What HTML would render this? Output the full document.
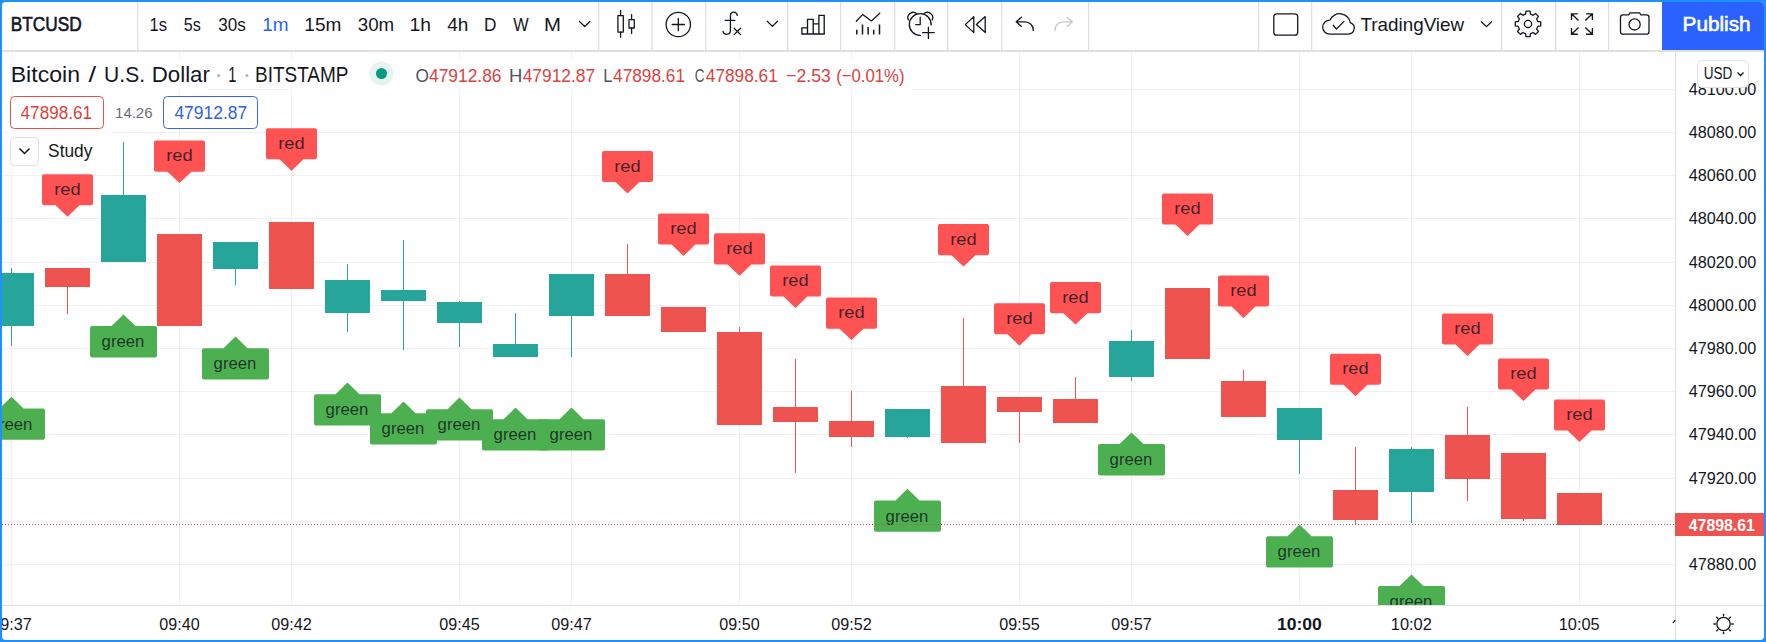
<!DOCTYPE html>
<html><head><meta charset="utf-8"><title>BTCUSD</title>
<style>
html,body{margin:0;padding:0;width:1766px;height:642px;overflow:hidden;background:#1e90ff;font-family:"Liberation Sans", sans-serif;}
</style></head><body>
<svg width="1766" height="642" viewBox="0 0 1766 642" style="position:absolute;left:0;top:0" font-family="'Liberation Sans', sans-serif">
<defs><clipPath id="pane"><rect x="2" y="52" width="1673" height="553"/></clipPath><clipPath id="taxis"><rect x="2" y="606" width="1673" height="34"/></clipPath></defs>
<rect x="0" y="0" width="1766" height="642" fill="#1e90ff"/>
<rect x="2" y="2" width="1762" height="638" rx="4" fill="#fff"/>
<g clip-path="url(#pane)">
<rect x="2" y="89" width="1673" height="1" fill="#f0f0f0"/>
<rect x="2" y="132" width="1673" height="1" fill="#f0f0f0"/>
<rect x="2" y="175" width="1673" height="1" fill="#f0f0f0"/>
<rect x="2" y="218" width="1673" height="1" fill="#f0f0f0"/>
<rect x="2" y="262" width="1673" height="1" fill="#f0f0f0"/>
<rect x="2" y="305" width="1673" height="1" fill="#f0f0f0"/>
<rect x="2" y="348" width="1673" height="1" fill="#f0f0f0"/>
<rect x="2" y="391" width="1673" height="1" fill="#f0f0f0"/>
<rect x="2" y="434" width="1673" height="1" fill="#f0f0f0"/>
<rect x="2" y="478" width="1673" height="1" fill="#f0f0f0"/>
<rect x="2" y="521" width="1673" height="1" fill="#f0f0f0"/>
<rect x="2" y="564" width="1673" height="1" fill="#f0f0f0"/>
<rect x="11" y="52" width="1" height="553" fill="#f0f0f0"/>
<rect x="179" y="52" width="1" height="553" fill="#f0f0f0"/>
<rect x="291" y="52" width="1" height="553" fill="#f0f0f0"/>
<rect x="459" y="52" width="1" height="553" fill="#f0f0f0"/>
<rect x="571" y="52" width="1" height="553" fill="#f0f0f0"/>
<rect x="739" y="52" width="1" height="553" fill="#f0f0f0"/>
<rect x="851" y="52" width="1" height="553" fill="#f0f0f0"/>
<rect x="1019" y="52" width="1" height="553" fill="#f0f0f0"/>
<rect x="1131" y="52" width="1" height="553" fill="#f0f0f0"/>
<rect x="1299" y="52" width="1" height="553" fill="#f0f0f0"/>
<rect x="1411" y="52" width="1" height="553" fill="#f0f0f0"/>
<rect x="1579" y="52" width="1" height="553" fill="#f0f0f0"/>
<rect x="2" y="59.5" width="909" height="29" fill="#fff"/>
<rect x="2" y="88" width="206" height="2" fill="#fff"/>
<rect x="288" y="88" width="623" height="2" fill="#fff"/>
<rect x="8" y="131" width="105" height="39" fill="#fff"/>
<rect x="11" y="268" width="1" height="78" fill="#26a69a"/>
<rect x="-11" y="273" width="45" height="53" fill="#26a69a"/>
<rect x="67" y="268" width="1" height="46" fill="#ef5350"/>
<rect x="45" y="268" width="45" height="19" fill="#ef5350"/>
<rect x="123" y="142" width="1" height="120" fill="#26a69a"/>
<rect x="101" y="195" width="45" height="67" fill="#26a69a"/>
<rect x="179" y="234" width="1" height="92" fill="#ef5350"/>
<rect x="157" y="234" width="45" height="92" fill="#ef5350"/>
<rect x="235" y="242" width="1" height="43" fill="#26a69a"/>
<rect x="213" y="242" width="45" height="27" fill="#26a69a"/>
<rect x="291" y="222" width="1" height="67" fill="#ef5350"/>
<rect x="269" y="222" width="45" height="67" fill="#ef5350"/>
<rect x="347" y="264" width="1" height="68" fill="#26a69a"/>
<rect x="325" y="280" width="45" height="33" fill="#26a69a"/>
<rect x="403" y="240" width="1" height="110" fill="#26a69a"/>
<rect x="381" y="290" width="45" height="11" fill="#26a69a"/>
<rect x="459" y="301" width="1" height="46" fill="#26a69a"/>
<rect x="437" y="302" width="45" height="21" fill="#26a69a"/>
<rect x="515" y="313" width="1" height="44" fill="#26a69a"/>
<rect x="493" y="344" width="45" height="13" fill="#26a69a"/>
<rect x="571" y="274" width="1" height="83" fill="#26a69a"/>
<rect x="549" y="274" width="45" height="42" fill="#26a69a"/>
<rect x="627" y="244" width="1" height="72" fill="#ef5350"/>
<rect x="605" y="274" width="45" height="42" fill="#ef5350"/>
<rect x="683" y="307" width="1" height="25" fill="#ef5350"/>
<rect x="661" y="307" width="45" height="25" fill="#ef5350"/>
<rect x="739" y="327" width="1" height="98" fill="#ef5350"/>
<rect x="717" y="332" width="45" height="93" fill="#ef5350"/>
<rect x="795" y="359" width="1" height="114" fill="#ef5350"/>
<rect x="773" y="407" width="45" height="15" fill="#ef5350"/>
<rect x="851" y="391" width="1" height="56" fill="#ef5350"/>
<rect x="829" y="421" width="45" height="16" fill="#ef5350"/>
<rect x="907" y="409" width="1" height="29" fill="#26a69a"/>
<rect x="885" y="409" width="45" height="28" fill="#26a69a"/>
<rect x="963" y="318" width="1" height="125" fill="#ef5350"/>
<rect x="941" y="386" width="45" height="57" fill="#ef5350"/>
<rect x="1019" y="397" width="1" height="46" fill="#ef5350"/>
<rect x="997" y="397" width="45" height="15" fill="#ef5350"/>
<rect x="1075" y="377" width="1" height="46" fill="#ef5350"/>
<rect x="1053" y="399" width="45" height="24" fill="#ef5350"/>
<rect x="1131" y="330" width="1" height="51" fill="#26a69a"/>
<rect x="1109" y="341" width="45" height="36" fill="#26a69a"/>
<rect x="1187" y="288" width="1" height="71" fill="#ef5350"/>
<rect x="1165" y="288" width="45" height="71" fill="#ef5350"/>
<rect x="1243" y="370" width="1" height="47" fill="#ef5350"/>
<rect x="1221" y="381" width="45" height="36" fill="#ef5350"/>
<rect x="1299" y="408" width="1" height="66" fill="#26a69a"/>
<rect x="1277" y="408" width="45" height="32" fill="#26a69a"/>
<rect x="1355" y="447" width="1" height="78" fill="#ef5350"/>
<rect x="1333" y="490" width="45" height="30" fill="#ef5350"/>
<rect x="1411" y="447" width="1" height="76" fill="#26a69a"/>
<rect x="1389" y="449" width="45" height="43" fill="#26a69a"/>
<rect x="1467" y="407" width="1" height="94" fill="#ef5350"/>
<rect x="1445" y="435" width="45" height="44" fill="#ef5350"/>
<rect x="1523" y="453" width="1" height="68" fill="#ef5350"/>
<rect x="1501" y="453" width="45" height="66" fill="#ef5350"/>
<rect x="1579" y="493" width="1" height="32" fill="#ef5350"/>
<rect x="1557" y="493" width="45" height="32" fill="#ef5350"/>
<path d="M-20.0,408.4 H-0.5 L11.5,396.7 L23.5,408.4 H43.0 Q45.0,408.4 45.0,410.4 V437.7 Q45.0,439.7 43.0,439.7 H-20.0 Q-22.0,439.7 -22.0,437.7 V410.4 Q-22.0,408.4 -20.0,408.4 Z" fill="#4caf50"/>
<text x="-10.40" y="429.50" font-size="16.5" fill="rgba(19,23,34,0.82)" textLength="42.79" lengthAdjust="spacingAndGlyphs">green</text>
<path d="M44.0,174.2 H91.0 Q93.0,174.2 93.0,176.2 V203.29999999999998 Q93.0,205.29999999999998 91.0,205.29999999999998 H79.5 L67.5,216.7 L55.5,205.29999999999998 H44.0 Q42.0,205.29999999999998 42.0,203.29999999999998 V176.2 Q42.0,174.2 44.0,174.2 Z" fill="#ff5252"/>
<text x="54.29" y="194.80" font-size="16.5" fill="rgba(19,23,34,0.82)" textLength="26.39" lengthAdjust="spacingAndGlyphs">red</text>
<path d="M92.0,326.1 H111.5 L123.5,314.40000000000003 L135.5,326.1 H155.0 Q157.0,326.1 157.0,328.1 V355.40000000000003 Q157.0,357.40000000000003 155.0,357.40000000000003 H92.0 Q90.0,357.40000000000003 90.0,355.40000000000003 V328.1 Q90.0,326.1 92.0,326.1 Z" fill="#4caf50"/>
<text x="101.60" y="347.20" font-size="16.5" fill="rgba(19,23,34,0.82)" textLength="42.79" lengthAdjust="spacingAndGlyphs">green</text>
<path d="M156.0,140.6 H203.0 Q205.0,140.6 205.0,142.6 V169.7 Q205.0,171.7 203.0,171.7 H191.5 L179.5,183.1 L167.5,171.7 H156.0 Q154.0,171.7 154.0,169.7 V142.6 Q154.0,140.6 156.0,140.6 Z" fill="#ff5252"/>
<text x="166.29" y="161.20" font-size="16.5" fill="rgba(19,23,34,0.82)" textLength="26.39" lengthAdjust="spacingAndGlyphs">red</text>
<path d="M204.0,348.2 H223.5 L235.5,336.5 L247.5,348.2 H267.0 Q269.0,348.2 269.0,350.2 V377.5 Q269.0,379.5 267.0,379.5 H204.0 Q202.0,379.5 202.0,377.5 V350.2 Q202.0,348.2 204.0,348.2 Z" fill="#4caf50"/>
<text x="213.60" y="369.30" font-size="16.5" fill="rgba(19,23,34,0.82)" textLength="42.79" lengthAdjust="spacingAndGlyphs">green</text>
<path d="M268.0,128.2 H315.0 Q317.0,128.2 317.0,130.2 V157.29999999999998 Q317.0,159.29999999999998 315.0,159.29999999999998 H303.5 L291.5,170.7 L279.5,159.29999999999998 H268.0 Q266.0,159.29999999999998 266.0,157.29999999999998 V130.2 Q266.0,128.2 268.0,128.2 Z" fill="#ff5252"/>
<text x="278.29" y="148.80" font-size="16.5" fill="rgba(19,23,34,0.82)" textLength="26.39" lengthAdjust="spacingAndGlyphs">red</text>
<path d="M316.0,394.3 H335.5 L347.5,382.6 L359.5,394.3 H379.0 Q381.0,394.3 381.0,396.3 V423.6 Q381.0,425.6 379.0,425.6 H316.0 Q314.0,425.6 314.0,423.6 V396.3 Q314.0,394.3 316.0,394.3 Z" fill="#4caf50"/>
<text x="325.60" y="415.40" font-size="16.5" fill="rgba(19,23,34,0.82)" textLength="42.79" lengthAdjust="spacingAndGlyphs">green</text>
<path d="M372.0,413.2 H391.5 L403.5,401.5 L415.5,413.2 H435.0 Q437.0,413.2 437.0,415.2 V442.5 Q437.0,444.5 435.0,444.5 H372.0 Q370.0,444.5 370.0,442.5 V415.2 Q370.0,413.2 372.0,413.2 Z" fill="#4caf50"/>
<text x="381.60" y="434.30" font-size="16.5" fill="rgba(19,23,34,0.82)" textLength="42.79" lengthAdjust="spacingAndGlyphs">green</text>
<path d="M428.0,409.2 H447.5 L459.5,397.5 L471.5,409.2 H491.0 Q493.0,409.2 493.0,411.2 V438.5 Q493.0,440.5 491.0,440.5 H428.0 Q426.0,440.5 426.0,438.5 V411.2 Q426.0,409.2 428.0,409.2 Z" fill="#4caf50"/>
<text x="437.60" y="430.30" font-size="16.5" fill="rgba(19,23,34,0.82)" textLength="42.79" lengthAdjust="spacingAndGlyphs">green</text>
<path d="M484.0,419.3 H503.5 L515.5,407.6 L527.5,419.3 H547.0 Q549.0,419.3 549.0,421.3 V448.6 Q549.0,450.6 547.0,450.6 H484.0 Q482.0,450.6 482.0,448.6 V421.3 Q482.0,419.3 484.0,419.3 Z" fill="#4caf50"/>
<text x="493.60" y="440.40" font-size="16.5" fill="rgba(19,23,34,0.82)" textLength="42.79" lengthAdjust="spacingAndGlyphs">green</text>
<path d="M540.0,419.3 H559.5 L571.5,407.6 L583.5,419.3 H603.0 Q605.0,419.3 605.0,421.3 V448.6 Q605.0,450.6 603.0,450.6 H540.0 Q538.0,450.6 538.0,448.6 V421.3 Q538.0,419.3 540.0,419.3 Z" fill="#4caf50"/>
<text x="549.60" y="440.40" font-size="16.5" fill="rgba(19,23,34,0.82)" textLength="42.79" lengthAdjust="spacingAndGlyphs">green</text>
<path d="M604.0,150.9 H651.0 Q653.0,150.9 653.0,152.9 V180.0 Q653.0,182.0 651.0,182.0 H639.5 L627.5,193.4 L615.5,182.0 H604.0 Q602.0,182.0 602.0,180.0 V152.9 Q602.0,150.9 604.0,150.9 Z" fill="#ff5252"/>
<text x="614.29" y="171.50" font-size="16.5" fill="rgba(19,23,34,0.82)" textLength="26.39" lengthAdjust="spacingAndGlyphs">red</text>
<path d="M660.0,213.5 H707.0 Q709.0,213.5 709.0,215.5 V242.6 Q709.0,244.6 707.0,244.6 H695.5 L683.5,256.0 L671.5,244.6 H660.0 Q658.0,244.6 658.0,242.6 V215.5 Q658.0,213.5 660.0,213.5 Z" fill="#ff5252"/>
<text x="670.29" y="234.10" font-size="16.5" fill="rgba(19,23,34,0.82)" textLength="26.39" lengthAdjust="spacingAndGlyphs">red</text>
<path d="M716.0,233.3 H763.0 Q765.0,233.3 765.0,235.3 V262.40000000000003 Q765.0,264.40000000000003 763.0,264.40000000000003 H751.5 L739.5,275.8 L727.5,264.40000000000003 H716.0 Q714.0,264.40000000000003 714.0,262.40000000000003 V235.3 Q714.0,233.3 716.0,233.3 Z" fill="#ff5252"/>
<text x="726.29" y="253.90" font-size="16.5" fill="rgba(19,23,34,0.82)" textLength="26.39" lengthAdjust="spacingAndGlyphs">red</text>
<path d="M772.0,265.4 H819.0 Q821.0,265.4 821.0,267.4 V294.5 Q821.0,296.5 819.0,296.5 H807.5 L795.5,307.9 L783.5,296.5 H772.0 Q770.0,296.5 770.0,294.5 V267.4 Q770.0,265.4 772.0,265.4 Z" fill="#ff5252"/>
<text x="782.29" y="286.00" font-size="16.5" fill="rgba(19,23,34,0.82)" textLength="26.39" lengthAdjust="spacingAndGlyphs">red</text>
<path d="M828.0,297.6 H875.0 Q877.0,297.6 877.0,299.6 V326.70000000000005 Q877.0,328.70000000000005 875.0,328.70000000000005 H863.5 L851.5,340.1 L839.5,328.70000000000005 H828.0 Q826.0,328.70000000000005 826.0,326.70000000000005 V299.6 Q826.0,297.6 828.0,297.6 Z" fill="#ff5252"/>
<text x="838.29" y="318.20" font-size="16.5" fill="rgba(19,23,34,0.82)" textLength="26.39" lengthAdjust="spacingAndGlyphs">red</text>
<path d="M876.0,500.5 H895.5 L907.5,488.8 L919.5,500.5 H939.0 Q941.0,500.5 941.0,502.5 V529.8 Q941.0,531.8 939.0,531.8 H876.0 Q874.0,531.8 874.0,529.8 V502.5 Q874.0,500.5 876.0,500.5 Z" fill="#4caf50"/>
<text x="885.60" y="521.60" font-size="16.5" fill="rgba(19,23,34,0.82)" textLength="42.79" lengthAdjust="spacingAndGlyphs">green</text>
<path d="M940.0,224.1 H987.0 Q989.0,224.1 989.0,226.1 V253.2 Q989.0,255.2 987.0,255.2 H975.5 L963.5,266.59999999999997 L951.5,255.2 H940.0 Q938.0,255.2 938.0,253.2 V226.1 Q938.0,224.1 940.0,224.1 Z" fill="#ff5252"/>
<text x="950.29" y="244.70" font-size="16.5" fill="rgba(19,23,34,0.82)" textLength="26.39" lengthAdjust="spacingAndGlyphs">red</text>
<path d="M996.0,303.2 H1043.0 Q1045.0,303.2 1045.0,305.2 V332.3 Q1045.0,334.3 1043.0,334.3 H1031.5 L1019.5,345.7 L1007.5,334.3 H996.0 Q994.0,334.3 994.0,332.3 V305.2 Q994.0,303.2 996.0,303.2 Z" fill="#ff5252"/>
<text x="1006.29" y="323.80" font-size="16.5" fill="rgba(19,23,34,0.82)" textLength="26.39" lengthAdjust="spacingAndGlyphs">red</text>
<path d="M1052.0,282.1 H1099.0 Q1101.0,282.1 1101.0,284.1 V311.20000000000005 Q1101.0,313.20000000000005 1099.0,313.20000000000005 H1087.5 L1075.5,324.6 L1063.5,313.20000000000005 H1052.0 Q1050.0,313.20000000000005 1050.0,311.20000000000005 V284.1 Q1050.0,282.1 1052.0,282.1 Z" fill="#ff5252"/>
<text x="1062.29" y="302.70" font-size="16.5" fill="rgba(19,23,34,0.82)" textLength="26.39" lengthAdjust="spacingAndGlyphs">red</text>
<path d="M1100.0,444.1 H1119.5 L1131.5,432.40000000000003 L1143.5,444.1 H1163.0 Q1165.0,444.1 1165.0,446.1 V473.40000000000003 Q1165.0,475.40000000000003 1163.0,475.40000000000003 H1100.0 Q1098.0,475.40000000000003 1098.0,473.40000000000003 V446.1 Q1098.0,444.1 1100.0,444.1 Z" fill="#4caf50"/>
<text x="1109.60" y="465.20" font-size="16.5" fill="rgba(19,23,34,0.82)" textLength="42.79" lengthAdjust="spacingAndGlyphs">green</text>
<path d="M1164.0,193.5 H1211.0 Q1213.0,193.5 1213.0,195.5 V222.6 Q1213.0,224.6 1211.0,224.6 H1199.5 L1187.5,236.0 L1175.5,224.6 H1164.0 Q1162.0,224.6 1162.0,222.6 V195.5 Q1162.0,193.5 1164.0,193.5 Z" fill="#ff5252"/>
<text x="1174.29" y="214.10" font-size="16.5" fill="rgba(19,23,34,0.82)" textLength="26.39" lengthAdjust="spacingAndGlyphs">red</text>
<path d="M1220.0,275.5 H1267.0 Q1269.0,275.5 1269.0,277.5 V304.6 Q1269.0,306.6 1267.0,306.6 H1255.5 L1243.5,318.0 L1231.5,306.6 H1220.0 Q1218.0,306.6 1218.0,304.6 V277.5 Q1218.0,275.5 1220.0,275.5 Z" fill="#ff5252"/>
<text x="1230.29" y="296.10" font-size="16.5" fill="rgba(19,23,34,0.82)" textLength="26.39" lengthAdjust="spacingAndGlyphs">red</text>
<path d="M1268.0,536.2 H1287.5 L1299.5,524.5 L1311.5,536.2 H1331.0 Q1333.0,536.2 1333.0,538.2 V565.5 Q1333.0,567.5 1331.0,567.5 H1268.0 Q1266.0,567.5 1266.0,565.5 V538.2 Q1266.0,536.2 1268.0,536.2 Z" fill="#4caf50"/>
<text x="1277.60" y="557.30" font-size="16.5" fill="rgba(19,23,34,0.82)" textLength="42.79" lengthAdjust="spacingAndGlyphs">green</text>
<path d="M1332.0,353.7 H1379.0 Q1381.0,353.7 1381.0,355.7 V382.8 Q1381.0,384.8 1379.0,384.8 H1367.5 L1355.5,396.2 L1343.5,384.8 H1332.0 Q1330.0,384.8 1330.0,382.8 V355.7 Q1330.0,353.7 1332.0,353.7 Z" fill="#ff5252"/>
<text x="1342.29" y="374.30" font-size="16.5" fill="rgba(19,23,34,0.82)" textLength="26.39" lengthAdjust="spacingAndGlyphs">red</text>
<path d="M1380.0,586.1 H1399.5 L1411.5,574.4 L1423.5,586.1 H1443.0 Q1445.0,586.1 1445.0,588.1 V615.4 Q1445.0,617.4 1443.0,617.4 H1380.0 Q1378.0,617.4 1378.0,615.4 V588.1 Q1378.0,586.1 1380.0,586.1 Z" fill="#4caf50"/>
<text x="1389.60" y="607.20" font-size="16.5" fill="rgba(19,23,34,0.82)" textLength="42.79" lengthAdjust="spacingAndGlyphs">green</text>
<path d="M1444.0,313.5 H1491.0 Q1493.0,313.5 1493.0,315.5 V342.6 Q1493.0,344.6 1491.0,344.6 H1479.5 L1467.5,356.0 L1455.5,344.6 H1444.0 Q1442.0,344.6 1442.0,342.6 V315.5 Q1442.0,313.5 1444.0,313.5 Z" fill="#ff5252"/>
<text x="1454.29" y="334.10" font-size="16.5" fill="rgba(19,23,34,0.82)" textLength="26.39" lengthAdjust="spacingAndGlyphs">red</text>
<path d="M1500.0,358.4 H1547.0 Q1549.0,358.4 1549.0,360.4 V387.5 Q1549.0,389.5 1547.0,389.5 H1535.5 L1523.5,400.9 L1511.5,389.5 H1500.0 Q1498.0,389.5 1498.0,387.5 V360.4 Q1498.0,358.4 1500.0,358.4 Z" fill="#ff5252"/>
<text x="1510.29" y="379.00" font-size="16.5" fill="rgba(19,23,34,0.82)" textLength="26.39" lengthAdjust="spacingAndGlyphs">red</text>
<path d="M1556.0,399.5 H1603.0 Q1605.0,399.5 1605.0,401.5 V428.6 Q1605.0,430.6 1603.0,430.6 H1591.5 L1579.5,442.0 L1567.5,430.6 H1556.0 Q1554.0,430.6 1554.0,428.6 V401.5 Q1554.0,399.5 1556.0,399.5 Z" fill="#ff5252"/>
<text x="1566.29" y="420.10" font-size="16.5" fill="rgba(19,23,34,0.82)" textLength="26.39" lengthAdjust="spacingAndGlyphs">red</text>
<line x1="2" y1="524.5" x2="1675" y2="524.5" stroke="#c4505a" stroke-width="1" stroke-dasharray="1 2"/>
</g>
<rect x="1675" y="52" width="1" height="588" fill="#e0e0e0"/>
<text x="1688.63" y="94.80" font-size="16" fill="#131722" textLength="67.61" lengthAdjust="spacingAndGlyphs">48100.00</text>
<text x="1688.63" y="138.00" font-size="16" fill="#131722" textLength="67.61" lengthAdjust="spacingAndGlyphs">48080.00</text>
<text x="1688.63" y="181.20" font-size="16" fill="#131722" textLength="67.61" lengthAdjust="spacingAndGlyphs">48060.00</text>
<text x="1688.63" y="224.40" font-size="16" fill="#131722" textLength="67.61" lengthAdjust="spacingAndGlyphs">48040.00</text>
<text x="1688.63" y="267.60" font-size="16" fill="#131722" textLength="67.61" lengthAdjust="spacingAndGlyphs">48020.00</text>
<text x="1688.63" y="310.80" font-size="16" fill="#131722" textLength="67.61" lengthAdjust="spacingAndGlyphs">48000.00</text>
<text x="1688.63" y="354.00" font-size="16" fill="#131722" textLength="67.61" lengthAdjust="spacingAndGlyphs">47980.00</text>
<text x="1688.63" y="397.20" font-size="16" fill="#131722" textLength="67.61" lengthAdjust="spacingAndGlyphs">47960.00</text>
<text x="1688.63" y="440.40" font-size="16" fill="#131722" textLength="67.61" lengthAdjust="spacingAndGlyphs">47940.00</text>
<text x="1688.63" y="483.60" font-size="16" fill="#131722" textLength="67.61" lengthAdjust="spacingAndGlyphs">47920.00</text>
<text x="1688.63" y="570.00" font-size="16" fill="#131722" textLength="67.61" lengthAdjust="spacingAndGlyphs">47880.00</text>
<rect x="1675" y="513" width="89" height="23" fill="#ef5350"/>
<text x="1688.76" y="530.80" font-size="16" font-weight="bold" fill="#fff" textLength="66.18" lengthAdjust="spacingAndGlyphs">47898.61</text>
<rect x="1697.5" y="60.5" width="51" height="27" rx="5" fill="#fff" stroke="#e0e0e0"/>
<text x="1703.66" y="78.60" font-size="16" fill="#131722" textLength="28.59" lengthAdjust="spacingAndGlyphs">USD</text>
<path d="M1737.5,72.5 L1740.5,75.5 L1743.5,72.5" fill="none" stroke="#131722" stroke-width="1.3"/>
<rect x="2" y="605" width="1762" height="1" fill="#e0e0e0"/>
<g clip-path="url(#taxis)">
<text x="-8.63" y="629.60" font-size="16" fill="#131722" textLength="40.44" lengthAdjust="spacingAndGlyphs">09:37</text>
<text x="159.37" y="629.60" font-size="16" fill="#131722" textLength="40.26" lengthAdjust="spacingAndGlyphs">09:40</text>
<text x="271.37" y="629.60" font-size="16" fill="#131722" textLength="40.44" lengthAdjust="spacingAndGlyphs">09:42</text>
<text x="439.37" y="629.60" font-size="16" fill="#131722" textLength="40.31" lengthAdjust="spacingAndGlyphs">09:45</text>
<text x="551.37" y="629.60" font-size="16" fill="#131722" textLength="40.44" lengthAdjust="spacingAndGlyphs">09:47</text>
<text x="719.37" y="629.60" font-size="16" fill="#131722" textLength="40.26" lengthAdjust="spacingAndGlyphs">09:50</text>
<text x="831.37" y="629.60" font-size="16" fill="#131722" textLength="40.44" lengthAdjust="spacingAndGlyphs">09:52</text>
<text x="999.37" y="629.60" font-size="16" fill="#131722" textLength="40.31" lengthAdjust="spacingAndGlyphs">09:55</text>
<text x="1111.37" y="629.60" font-size="16" fill="#131722" textLength="40.44" lengthAdjust="spacingAndGlyphs">09:57</text>
<text x="1276.90" y="629.60" font-size="16" font-weight="bold" fill="#131722" textLength="44.82" lengthAdjust="spacingAndGlyphs">10:00</text>
<text x="1390.75" y="629.60" font-size="16" fill="#131722" textLength="41.08" lengthAdjust="spacingAndGlyphs">10:02</text>
<text x="1558.75" y="629.60" font-size="16" fill="#131722" textLength="40.93" lengthAdjust="spacingAndGlyphs">10:05</text>
</g>
<path d="M1673.2,622.6 L1675,620.6" stroke="#131722" stroke-width="1.3" stroke-linecap="round"/>
<circle cx="1723.5" cy="624" r="6.7" fill="none" stroke="#131722" stroke-width="1.3"/><line x1="1731.10" y1="624.00" x2="1733.70" y2="624.00" stroke="#131722" stroke-width="1.4"/><line x1="1728.87" y1="629.37" x2="1730.71" y2="631.21" stroke="#131722" stroke-width="1.4"/><line x1="1723.50" y1="631.60" x2="1723.50" y2="634.20" stroke="#131722" stroke-width="1.4"/><line x1="1718.13" y1="629.37" x2="1716.29" y2="631.21" stroke="#131722" stroke-width="1.4"/><line x1="1715.90" y1="624.00" x2="1713.30" y2="624.00" stroke="#131722" stroke-width="1.4"/><line x1="1718.13" y1="618.63" x2="1716.29" y2="616.79" stroke="#131722" stroke-width="1.4"/><line x1="1723.50" y1="616.40" x2="1723.50" y2="613.80" stroke="#131722" stroke-width="1.4"/><line x1="1728.87" y1="618.63" x2="1730.71" y2="616.79" stroke="#131722" stroke-width="1.4"/>
<rect x="2" y="50" width="1762" height="2" fill="#e0e0e0"/>
<rect x="137" y="2" width="1.3" height="48" fill="#e0e0e0"/>
<rect x="598" y="2" width="1.3" height="48" fill="#e0e0e0"/>
<rect x="651.5" y="2" width="1.3" height="48" fill="#e0e0e0"/>
<rect x="705" y="2" width="1.3" height="48" fill="#e0e0e0"/>
<rect x="787" y="2" width="1.3" height="48" fill="#e0e0e0"/>
<rect x="840" y="2" width="1.3" height="48" fill="#e0e0e0"/>
<rect x="894" y="2" width="1.3" height="48" fill="#e0e0e0"/>
<rect x="947" y="2" width="1.3" height="48" fill="#e0e0e0"/>
<rect x="1001" y="2" width="1.3" height="48" fill="#e0e0e0"/>
<rect x="1088" y="2" width="1.3" height="48" fill="#e0e0e0"/>
<rect x="1258" y="2" width="1.3" height="48" fill="#e0e0e0"/>
<rect x="1311" y="2" width="1.3" height="48" fill="#e0e0e0"/>
<rect x="1501" y="2" width="1.3" height="48" fill="#e0e0e0"/>
<rect x="1555" y="2" width="1.3" height="48" fill="#e0e0e0"/>
<rect x="1608" y="2" width="1.3" height="48" fill="#e0e0e0"/>
<text x="10.68" y="30.80" font-size="19.5" fill="#131722" textLength="70.94" lengthAdjust="spacingAndGlyphs" stroke="#131722" stroke-width="0.6">BTCUSD</text>
<text x="149.44" y="30.80" font-size="18.8" fill="#131722" textLength="17.46" lengthAdjust="spacingAndGlyphs">1s</text>
<text x="183.75" y="30.80" font-size="18.8" fill="#131722" textLength="17.03" lengthAdjust="spacingAndGlyphs">5s</text>
<text x="218.15" y="30.80" font-size="18.8" fill="#131722" textLength="27.57" lengthAdjust="spacingAndGlyphs">30s</text>
<text x="262.16" y="30.80" font-size="18.8" fill="#2962ff" textLength="26.29" lengthAdjust="spacingAndGlyphs">1m</text>
<text x="304.35" y="30.80" font-size="18.8" fill="#131722" textLength="37.00" lengthAdjust="spacingAndGlyphs">15m</text>
<text x="357.79" y="30.80" font-size="18.8" fill="#131722" textLength="36.45" lengthAdjust="spacingAndGlyphs">30m</text>
<text x="409.63" y="30.80" font-size="18.8" fill="#131722" textLength="21.42" lengthAdjust="spacingAndGlyphs">1h</text>
<text x="447.26" y="30.80" font-size="18.8" fill="#131722" textLength="21.17" lengthAdjust="spacingAndGlyphs">4h</text>
<text x="483.99" y="30.80" font-size="18.8" fill="#131722" textLength="12.44" lengthAdjust="spacingAndGlyphs">D</text>
<text x="513.33" y="30.80" font-size="18.8" fill="#131722" textLength="15.43" lengthAdjust="spacingAndGlyphs">W</text>
<text x="544.03" y="30.80" font-size="18.8" fill="#131722" textLength="16.94" lengthAdjust="spacingAndGlyphs">M</text>
<path d="M579.5,21.5 L584.7,26.5 L589.9,21.5" fill="none" stroke="#131722" stroke-width="1.3" stroke-linecap="round" stroke-linejoin="round"/>
<path d="M620.6,10.5 V15.6 M620.6,32 V37.3 M631.6,14.6 V19.6 M631.6,28 V33.4" fill="none" stroke="#131722" stroke-width="1.3" stroke-linecap="round" stroke-linejoin="round"/>
<rect x="617.9" y="15.6" width="5.4" height="16.5" fill="none" stroke="#131722" stroke-width="1.3" stroke-linecap="round" stroke-linejoin="round"/>
<rect x="629" y="19.6" width="5.3" height="8.4" fill="none" stroke="#131722" stroke-width="1.3" stroke-linecap="round" stroke-linejoin="round"/>
<circle cx="678.3" cy="24.5" r="12.2" fill="none" stroke="#131722" stroke-width="1.3" stroke-linecap="round" stroke-linejoin="round"/>
<path d="M672.2,24.5 H684.4 M678.3,18.4 V30.7" fill="none" stroke="#131722" stroke-width="1.3" stroke-linecap="round" stroke-linejoin="round"/>
<path d="M737.3,15.4 C736.8,13 735.3,12.2 733.8,12.2 C731.8,12.2 730.4,13.6 730.4,16.2 V30.6 C730.4,33.2 728.8,34.3 726.8,34.3 C724.8,34.3 723.4,33.2 723,31.4 M725.2,20.3 H734.9 M734.2,28.2 L740.6,34.6 M740.6,28.2 L734.2,34.6" fill="none" stroke="#131722" stroke-width="1.3" stroke-linecap="round" stroke-linejoin="round"/>
<path d="M767.3,21.3 L772.4,26.4 L777.5,21.3" fill="none" stroke="#131722" stroke-width="1.3" stroke-linecap="round" stroke-linejoin="round"/>
<path d="M801.9,34 V27.8 H807.5 V19.3 H813.2 V23.8 H818.9 V15.3 H824.2 V34 Z M807.5,27.8 V34 M813.2,23.8 V34 M818.9,23.8 V34" fill="none" stroke="#131722" stroke-width="1.35" stroke-linejoin="miter"/>
<path d="M856.3,21.2 L862.7,14.4 L871.4,20.9 L879.8,13.2" fill="none" stroke="#131722" stroke-width="1.3" stroke-linecap="round" stroke-linejoin="round"/>
<path d="M856.8,29.8 V34.4 M862.5,24.4 V34.4 M868.1,27 V34.4 M873.7,29.8 V34.4 M879.5,24.4 V34.4" fill="none" stroke="#131722" stroke-width="1.5"/>
<path d="M931.1,24.9 A10.9,10.9 0 1 0 920.4,35.4" fill="none" stroke="#131722" stroke-width="1.3" stroke-linecap="round" stroke-linejoin="round"/>
<path d="M908.4,20 A5.37,5.37 0 0 1 916.8,13.7 M923.8,13.7 A5.37,5.37 0 0 1 932.2,20" fill="none" stroke="#131722" stroke-width="1.3" stroke-linecap="round" stroke-linejoin="round"/>
<path d="M920.2,17.2 V24.6 H915.7 M922.5,32.7 H934.2 M928.4,27.1 V38.5" fill="none" stroke="#131722" stroke-width="1.3" stroke-linecap="round" stroke-linejoin="round"/>
<path d="M965.3,24.6 L973.8,16.6 V32.6 Z M976.4,24.6 L985.2,16.6 V32.6 Z" fill="none" stroke="#131722" stroke-width="1.3" stroke-linecap="round" stroke-linejoin="round"/>
<path d="M1021.4,17.2 L1016.2,21.8 L1021.4,26.4 M1016.2,21.8 H1025 A8.3,8.3 0 0 1 1033.3,30.1 V30.4" fill="none" stroke="#131722" stroke-width="1.3" stroke-linecap="round" stroke-linejoin="round"/>
<path d="M1067.1,17.2 L1072.3,21.8 L1067.1,26.4 M1072.3,21.8 H1063.5 A8.7,8.7 0 0 0 1054.8,30.4" fill="none" stroke="#c3c5cb" stroke-width="1.3" stroke-linecap="round" stroke-linejoin="round"/>
<rect x="1273.8" y="13.8" width="23.9" height="21.4" rx="3" fill="none" stroke="#131722" stroke-width="1.3"/>
<path d="M1329.70,34.1 A7.0,7.0 0 1 1 1330.06,20.11 A10.6,10.6 0 0 1 1350.27,22.64 A5.9,5.9 0 0 1 1348.30,34.1 Z" fill="none" stroke="#131722" stroke-width="1.3" stroke-linecap="round" stroke-linejoin="round"/>
<path d="M1333.2,25.3 L1336.4,29 L1344,21.4" fill="none" stroke="#131722" stroke-width="1.3" stroke-linecap="round" stroke-linejoin="round"/>
<text x="1360.48" y="30.50" font-size="19" fill="#131722" textLength="103.67" lengthAdjust="spacingAndGlyphs">TradingView</text>
<path d="M1481.4,21.7 L1486.5,26.6 L1491.6,21.7" fill="none" stroke="#131722" stroke-width="1.3" stroke-linecap="round" stroke-linejoin="round"/>
<path d="M1524.17,14.66 L1525.53,14.21 L1525.94,11.16 L1530.06,11.16 L1530.47,14.21 L1531.83,14.66 L1533.10,15.30 L1535.55,13.44 L1538.46,16.35 L1536.60,18.80 L1537.24,20.07 L1537.69,21.43 L1540.74,21.84 L1540.74,25.96 L1537.69,26.37 L1537.24,27.73 L1536.60,29.00 L1538.46,31.45 L1535.55,34.36 L1533.10,32.50 L1531.83,33.14 L1530.47,33.59 L1530.06,36.64 L1525.94,36.64 L1525.53,33.59 L1524.17,33.14 L1522.90,32.50 L1520.45,34.36 L1517.54,31.45 L1519.40,29.00 L1518.76,27.73 L1518.31,26.37 L1515.26,25.96 L1515.26,21.84 L1518.31,21.43 L1518.76,20.07 L1519.40,18.80 L1517.54,16.35 L1520.45,13.44 L1522.90,15.30 Z" fill="none" stroke="#131722" stroke-width="1.3" stroke-linecap="round" stroke-linejoin="round"/>
<circle cx="1528" cy="23.9" r="3.6" fill="none" stroke="#131722" stroke-width="1.3" stroke-linecap="round" stroke-linejoin="round"/>
<path d="M1571.5,20 V13.8 H1577.8 M1571.5,13.8 L1578.6,20.6 M1592.4,20 V13.8 H1586.1 M1592.4,13.8 L1585.3,20.6 M1571.5,28 V34.2 H1577.8 M1571.5,34.2 L1578.6,27.4 M1592.4,28 V34.2 H1586.1 M1592.4,34.2 L1585.3,27.4" fill="none" stroke="#131722" stroke-width="1.35"/>
<path d="M1623,14.8 H1628.6 L1630,12.9 H1639.6 L1641,14.8 H1646.5 Q1649,14.8 1649,17.3 V31.7 Q1649,34.2 1646.5,34.2 H1623 Q1620.5,34.2 1620.5,31.7 V17.3 Q1620.5,14.8 1623,14.8 Z" fill="none" stroke="#131722" stroke-width="1.3" stroke-linecap="round" stroke-linejoin="round"/>
<circle cx="1634.6" cy="24.4" r="5.6" fill="none" stroke="#131722" stroke-width="1.3" stroke-linecap="round" stroke-linejoin="round"/>
<path d="M1662,2 H1760 Q1764,2 1764,6 V50 H1662 Z" fill="#2962ff"/>
<text x="1682.60" y="30.80" font-size="20" fill="#fff" textLength="68.05" lengthAdjust="spacingAndGlyphs" stroke="#fff" stroke-width="0.6">Publish</text>
<text x="10.71" y="81.80" font-size="22.5" fill="#131722" textLength="69.29" lengthAdjust="spacingAndGlyphs">Bitcoin</text>
<text x="88.40" y="81.80" font-size="22.5" fill="#131722" textLength="7.60" lengthAdjust="spacingAndGlyphs">/</text>
<text x="104.08" y="81.80" font-size="22.5" fill="#131722" textLength="40.95" lengthAdjust="spacingAndGlyphs">U.S.</text>
<text x="151.78" y="81.80" font-size="22.5" fill="#131722" textLength="58.09" lengthAdjust="spacingAndGlyphs">Dollar</text>
<text x="228.19" y="81.80" font-size="22.5" fill="#131722" textLength="8.13" lengthAdjust="spacingAndGlyphs">1</text>
<text x="254.97" y="81.80" font-size="22.5" fill="#131722" textLength="93.52" lengthAdjust="spacingAndGlyphs">BITSTAMP</text>
<circle cx="218.7" cy="75.5" r="1.6" fill="#b2b5be"/><circle cx="247" cy="75.5" r="1.6" fill="#b2b5be"/>
<circle cx="381.5" cy="73.5" r="12" fill="#e5f3f1"/>
<circle cx="381.5" cy="73.5" r="5.5" fill="#089981"/>
<text x="415.38" y="81.50" font-size="18.5" fill="#50535e" textLength="13.45" lengthAdjust="spacingAndGlyphs">O</text>
<text x="429.00" y="81.50" font-size="18.5" fill="#d9423f" textLength="72.46" lengthAdjust="spacingAndGlyphs">47912.86</text>
<text x="508.89" y="81.50" font-size="18.5" fill="#50535e" textLength="13.32" lengthAdjust="spacingAndGlyphs">H</text>
<text x="522.70" y="81.50" font-size="18.5" fill="#d9423f" textLength="72.47" lengthAdjust="spacingAndGlyphs">47912.87</text>
<text x="603.34" y="81.50" font-size="18.5" fill="#50535e" textLength="9.21" lengthAdjust="spacingAndGlyphs">L</text>
<text x="613.10" y="81.50" font-size="18.5" fill="#d9423f" textLength="71.94" lengthAdjust="spacingAndGlyphs">47898.61</text>
<text x="694.72" y="81.50" font-size="18.5" fill="#50535e" textLength="9.69" lengthAdjust="spacingAndGlyphs">C</text>
<text x="705.80" y="81.50" font-size="18.5" fill="#d9423f" textLength="71.94" lengthAdjust="spacingAndGlyphs">47898.61</text>
<text x="786.34" y="81.50" font-size="18.5" fill="#d9423f" textLength="44.33" lengthAdjust="spacingAndGlyphs">−2.53</text>
<text x="836.26" y="81.50" font-size="18.5" fill="#d9423f" textLength="68.27" lengthAdjust="spacingAndGlyphs">(−0.01%)</text>
<rect x="10.5" y="96.5" width="93" height="32" rx="4" fill="#fff" stroke="#e0524a"/>
<text x="20.61" y="118.90" font-size="17.5" fill="#dc3f3a" textLength="71.33" lengthAdjust="spacingAndGlyphs">47898.61</text>
<text x="115.06" y="118.30" font-size="15" fill="#6a6d78" textLength="37.50" lengthAdjust="spacingAndGlyphs">14.26</text>
<rect x="163.5" y="96.5" width="94" height="32" rx="4" fill="#fff" stroke="#3a66e8"/>
<text x="174.40" y="118.90" font-size="17.5" fill="#2f5fe0" textLength="72.78" lengthAdjust="spacingAndGlyphs">47912.87</text>
<rect x="10.5" y="137.5" width="28" height="28" rx="4" fill="#fff" stroke="#e0e0e0"/>
<path d="M19.5,148.5 L24.5,153.5 L29.5,148.5" fill="none" stroke="#131722" stroke-width="1.5"/>
<text x="48.11" y="156.50" font-size="17.5" fill="#131722" textLength="44.22" lengthAdjust="spacingAndGlyphs">Study</text>
</svg>
</body></html>
